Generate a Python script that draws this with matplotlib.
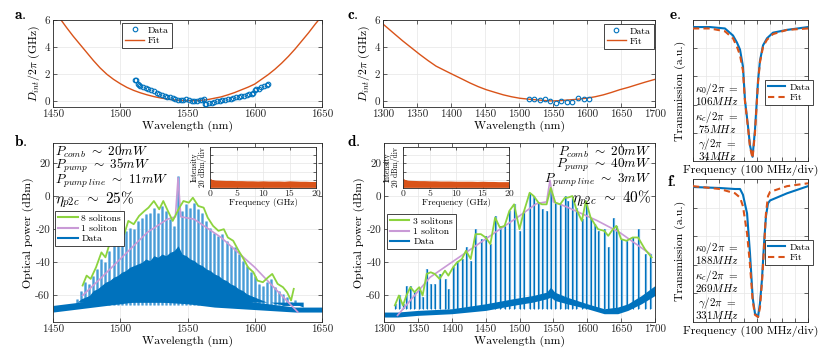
import warnings
import numpy as np
import matplotlib
matplotlib.use("Agg")
import matplotlib.pyplot as plt

warnings.filterwarnings("ignore")
plt.rcParams["font.family"] = "serif"
plt.rcParams["font.serif"] = ["cmr10", "DejaVu Serif"]
plt.rcParams["mathtext.fontset"] = "cm"
plt.rcParams["axes.unicode_minus"] = False

BLUE = "#0072BD"
LBLUE = "#6fb2e2"
ORANGE = "#D95319"
GREEN = "#8cd33f"
PINK = "#c99ad6"

# ---- panel a: integrated dispersion, 1450-1650 nm
a_data_wl = [1511, 1512, 1513, 1514, 1515, 1517, 1519, 1521, 1523, 1525, 1527, 1529, 1531,
             1533, 1535, 1537, 1539, 1541, 1543, 1545, 1547, 1549, 1551, 1553, 1555, 1557,
             1559, 1561, 1562, 1563, 1564, 1566, 1568, 1570, 1572, 1574, 1576, 1578, 1580,
             1582, 1584, 1586, 1588, 1590, 1592, 1594, 1596, 1598, 1599, 1600, 1601, 1603,
             1605, 1607, 1609, 1610]
a_data_d = [1.58, 1.52, 1.25, 1.2, 1.12, 1.05, 0.95, 0.88, 0.78, 0.7, 0.62, 0.55, 0.46,
            0.38, 0.32, 0.26, 0.2, 0.14, 0.09, 0.05, 0.04, 0.12, 0.05, 0.0, 0.02, 0.02,
            0.06, 0.1, 0.13, -0.2, -0.22, -0.18, -0.12, -0.06, -0.02, 0.02, 0.05, 0.1, 0.14,
            0.18, 0.23, 0.28, 0.32, 0.36, 0.4, 0.44, 0.48, 0.52, 0.6, 0.78, 0.85, 0.92,
            1.0, 1.08, 1.18, 1.26]
a_fit_wl = [1456, 1460, 1465, 1470, 1475, 1480, 1485, 1490, 1495, 1500, 1505, 1510, 1515,
            1520, 1525, 1530, 1535, 1540, 1545, 1550, 1555, 1560, 1565, 1570, 1575, 1580,
            1585, 1590, 1595, 1600, 1605, 1610, 1615, 1620, 1625, 1630, 1635, 1640, 1645,
            1650]
a_fit_d = [6.0, 5.45, 4.8, 4.2, 3.6, 3.0, 2.45, 1.98, 1.6, 1.28, 1.0, 0.78, 0.6,
           0.45, 0.32, 0.22, 0.14, 0.08, 0.04, 0.02, 0.02, 0.04, 0.1, 0.2, 0.3, 0.45,
           0.62, 0.82, 1.02, 1.25, 1.6, 1.95, 2.35, 2.8, 3.3, 3.85, 4.45, 5.05, 5.7,
           6.3]

# ---- panel c: integrated dispersion, 1300-1700 nm
c_data_wl = [1515, 1522, 1531, 1538, 1546, 1554, 1562, 1570, 1578, 1587, 1595, 1603]
c_data_d = [0.18, 0.12, 0.08, 0.12, 0.0, -0.12, 0.02, -0.05, -0.05, 0.25, 0.18, 0.18]
c_fit_wl = [1300, 1315, 1329, 1342, 1354, 1366, 1378, 1391, 1403, 1416, 1428, 1440, 1452,
            1465, 1477, 1489, 1501, 1514, 1526, 1538, 1550, 1562, 1575, 1587, 1599, 1612,
            1624, 1636, 1648, 1661, 1673, 1686, 1700]
c_fit_d = [5.7, 5.05, 4.45, 3.93, 3.45, 3.0, 2.58, 2.25, 1.95, 1.63, 1.33, 1.06, 0.83,
           0.63, 0.45, 0.31, 0.2, 0.13, 0.08, 0.03, 0.0, 0.03, 0.08, 0.13, 0.2, 0.31,
           0.45, 0.63, 0.83, 1.01, 1.2, 1.4, 1.6]

# ---- panel b: comb spectrum, 8 solitons
b_comb_wl = [1468, 1471, 1474, 1477, 1480, 1483, 1486, 1489, 1492, 1495, 1498, 1501, 1504,
             1507, 1510, 1513, 1516, 1519, 1522, 1525, 1528, 1531, 1534, 1537, 1540, 1543,
             1546, 1549, 1552, 1555, 1558, 1561, 1564, 1567, 1570, 1573, 1576, 1579, 1582,
             1585, 1588, 1591, 1594, 1597, 1600, 1603, 1606, 1609, 1612, 1615, 1618, 1621,
             1624, 1627, 1630, 1633, 1636]
b_comb_top = [-62, -57, -52, -53, -48, -44, -38, -40, -33, -29, -27, -26, -21,
              -19, -20, -15, -13, -11, -10, -7, -10, -6, -9, -14, -18, 12,
              -9, -5, -7, -4, -8, -10, -15, -19, -22, -24, -23, -27, -30,
              -31, -35, -39, -42, -46, -48, -53, -54, -52, -50, -55, -57, -59,
              -61, -64, -63, -65, -66]
b_dark_top = [-64, -62, -61, -60, -57, -56, -54, -52, -51, -49, -48, -46, -45,
              -43, -42, -41, -40, -38, -39, -36, -37, -35, -36, -34, -33, -30,
              -35, -36, -38, -39, -41, -42, -44, -45, -47, -48, -50, -51, -53,
              -54, -56, -57, -59, -60, -61, -62, -63, -64, -64, -65, -65, -66,
              -66, -66, -66, -66, -67]
b_floor_wl = [1450, 1470, 1490, 1510, 1530, 1550, 1570, 1590, 1610, 1630, 1650]
b_floor_lo = [-70, -68, -66, -64, -64, -65, -67, -68, -69, -70, -70]
b_floor_hi = [-66, -64, -61, -58, -58, -59, -61, -63, -65, -67, -67]
b_8sol_wl = [1472, 1475, 1478, 1482, 1486, 1489, 1492, 1495, 1499, 1503, 1506, 1510, 1514,
             1518, 1521, 1525, 1529, 1532, 1536, 1539, 1544, 1547, 1551, 1554, 1558, 1562,
             1565, 1569, 1573, 1577, 1580, 1584, 1588, 1591, 1595, 1599, 1602, 1606, 1610,
             1613, 1617, 1621, 1624, 1627, 1629]
b_8sol_p = [-54, -48, -50, -43, -34, -37, -29, -26, -22, -23, -15, -17, -12,
            -9, -7, -3, -8, -3, -10, -15, -7, -3, -4, -1, -6, -7,
            -13, -18, -21, -20, -25, -27, -33, -37, -43, -46, -51, -52, -49,
            -47, -53, -55, -58, -63, -56]
b_1sol_wl = [1472, 1485, 1500, 1520, 1535, 1541, 1543, 1545, 1555, 1575, 1600, 1620, 1632]
b_1sol_p = [-60, -50, -38, -22, -14, -12.5, 11, -12.5, -14, -25, -43, -60, -70]

# ---- panel d: comb spectrum, 3 solitons
d_comb_wl = [1310, 1316, 1322, 1328, 1333, 1339, 1345, 1352, 1357, 1363, 1369, 1375, 1382,
             1390, 1395, 1402, 1408, 1415, 1421, 1428, 1435, 1443, 1450, 1457, 1464, 1471,
             1478, 1485, 1492, 1500, 1506, 1515, 1521, 1528, 1533, 1540, 1546, 1553, 1560,
             1567, 1571, 1578, 1584, 1592, 1598, 1605, 1611, 1616, 1625, 1631, 1638, 1643,
             1650, 1658, 1667, 1675, 1685, 1693]
d_comb_top = [-68, -65, -60, -65, -54, -54, -58, -56, -61, -44, -53, -53, -47,
              -50, -56, -43, -39, -38, -31, -39, -20, -26, -24, -29, -12, -18,
              -18, -9, -5, -21, -9, 2, 0, -4, -8, -9, 5, -4, -5,
              0, -3, -1, -7, -14, -4, -13, -17, -21, -20, -31, -13, -18,
              -26, -27, -25, -20, -35, -35]
d_floor_wl = [1300, 1320, 1350, 1400, 1450, 1490, 1520, 1540, 1546, 1552, 1570, 1600, 1625,
              1645, 1660, 1680, 1700]
d_floor_lo = [-73, -73, -72, -71, -69, -66, -64, -62, -61, -63, -65, -68, -71,
              -71, -69, -65, -60]
d_floor_hi = [-70, -70, -69, -68, -65, -62, -60, -58, -55, -58, -61, -65, -68,
              -67, -65, -60, -54]
d_3sol_wl = [1316, 1322, 1328, 1333, 1339, 1345, 1352, 1357, 1363, 1369, 1375, 1382, 1390,
             1395, 1402, 1408, 1415, 1421, 1428, 1435, 1443, 1450, 1457, 1464, 1471, 1478,
             1485, 1492, 1500, 1506, 1515, 1521, 1528, 1533, 1540, 1546, 1553, 1560, 1567,
             1571, 1578, 1584, 1592, 1598, 1605, 1611, 1616, 1625, 1631, 1638, 1643, 1650,
             1658, 1667, 1675, 1685, 1695]
d_3sol_p = [-66, -60, -66, -60, -55, -58, -55, -60, -47, -46, -47, -50, -45,
            -48, -43, -40, -38, -33, -38, -23, -23, -25, -29, -13, -19, -18,
            -9, -5, -20, -10, 2, 0, -4, -5, -5, 5, -4, -5, -1,
            -1, 0, -8, -15, -3, -13, -17, -20, -21, -24, -20, -18, -26,
            -27, -25, -25, -32, -37]
d_1sol_wl = [1320, 1343, 1368, 1407, 1464, 1500, 1525, 1540, 1545, 1550, 1570, 1614, 1648, 1693]
d_1sol_p = [-72, -61, -49, -38, -22, -12, -4.6, -3.5, 9.5, -3.5, -6.6, -14.7, -22, -35]

# ---- insets: RF intensity noise
rf_freq = [0, 0.3, 1, 2, 3, 4, 5, 6, 7, 8, 9, 10, 11, 12, 13, 14, 15, 16, 17, 18, 19, 20]
b_rf = [24, 21, 19.5, 19, 18.5, 18.5, 18, 18, 17.5, 17.5, 17, 17.5, 17, 17, 17, 16.5,
        17.5, 17, 16.5, 16.5, 16, 16]
d_rf = [24, 21, 19, 18.5, 18, 18, 17.5, 17.5, 17, 17, 17, 16.5, 16.5, 16.5, 16.5, 16,
        16.5, 16, 16, 15.5, 15.5, 15.5]

# ---- panels e, f: resonance transmission (MHz offset)
e_freq = [0, 133, 250, 313, 344, 368, 391, 407, 430, 446, 466, 485, 501, 509, 524, 548,
          579, 626, 736, 900]
e_data = [0.95, 0.95, 0.94, 0.89, 0.84, 0.79, 0.67, 0.43, 0.25, 0.11, 0.03, 0.22, 0.45,
          0.57, 0.71, 0.82, 0.87, 0.91, 0.93, 0.95]
e_fit = [0.94, 0.94, 0.92, 0.87, 0.81, 0.75, 0.64, 0.42, 0.24, 0.10, 0.02, 0.20, 0.44,
         0.56, 0.70, 0.81, 0.86, 0.90, 0.93, 0.94]
f_freq = [0, 211, 329, 368, 391, 423, 446, 467, 485, 509, 524, 540, 556, 571, 587, 603,
          736, 900]
f_data = [0.944, 0.937, 0.93, 0.93, 0.89, 0.76, 0.48, 0.17, 0.06, 0.035, 0.13, 0.30,
          0.55, 0.74, 0.83, 0.85, 0.90, 0.95]
f_fit = [0.95, 0.93, 0.90, 0.87, 0.81, 0.62, 0.40, 0.15, 0.05, 0.035, 0.10, 0.28,
         0.52, 0.76, 0.88, 0.91, 0.95, 0.97]

W, H = 830, 361
fig = plt.figure(figsize=(W / 100, H / 100), dpi=100)


def add_ax(l, t, r, b):
    return fig.add_axes([l / W, 1 - b / H, (r - l) / W, (b - t) / H])


def matlab_style(ax, labelsize=8):
    ax.tick_params(direction="in", top=True, right=True, length=3, width=0.5,
                   labelsize=labelsize, pad=2, colors="#262626")
    for s in ax.spines.values():
        s.set_linewidth(0.6)
        s.set_color("#262626")
    ax.grid(True, color="#e6e6e6", lw=0.5)
    ax.set_axisbelow(True)


def leg(ax, **kw):
    opts = dict(fontsize=7, fancybox=False, framealpha=1, edgecolor="#262626",
                borderpad=0.3, labelspacing=0.15, handletextpad=0.4,
                handlelength=2.0, borderaxespad=0)
    opts.update(kw)
    lg = ax.legend(**opts)
    lg.get_frame().set_linewidth(0.6)
    return lg


# panel a
ax = add_ax(53, 20, 322, 107)
matlab_style(ax)
ax.plot(a_fit_wl, a_fit_d, color=ORANGE, lw=1.0, label="Fit", zorder=2)
ax.plot(a_data_wl, a_data_d, "o", mfc="none", mec=BLUE, ms=3.3, mew=0.8, label="Data", zorder=3)
ax.set_xlim(1450, 1650)
ax.set_ylim(-0.45, 6)
ax.set_xticks(np.arange(1450, 1651, 50))
ax.set_yticks([0, 2, 4, 6])
ax.set_xlabel("Wavelength (nm)", fontsize=8.5, labelpad=1)
ax.set_ylabel(r"$D_{int}/2\pi$ (GHz)", fontsize=8.5, labelpad=2)
h, l = ax.get_legend_handles_labels()
leg(ax, handles=h[::-1], labels=l[::-1], loc="upper left", bbox_to_anchor=(0.256, 0.966))

# panel c
ax = add_ax(383, 20, 655, 107)
matlab_style(ax)
ax.plot(c_fit_wl, c_fit_d, color=ORANGE, lw=1.0, label="Fit", zorder=2)
ax.plot(c_data_wl, c_data_d, "o", mfc="none", mec=BLUE, ms=3.3, mew=0.8, label="Data", zorder=3)
ax.set_xlim(1300, 1700)
ax.set_ylim(-0.45, 6)
ax.set_xticks(np.arange(1300, 1701, 50))
ax.set_yticks([0, 2, 4, 6])
ax.set_xlabel("Wavelength (nm)", fontsize=8.5, labelpad=1)
ax.set_ylabel(r"$D_{int}/2\pi$ (GHz)", fontsize=8.5, labelpad=2)
h, l = ax.get_legend_handles_labels()
leg(ax, handles=h[::-1], labels=l[::-1], loc="upper right", bbox_to_anchor=(0.995, 0.955))

# panel b
ax = add_ax(53, 143, 322, 322)
matlab_style(ax)
ax.vlines(b_comb_wl, -66, b_comb_top, color=LBLUE, lw=2.0, zorder=2)
ax.vlines(b_comb_wl, -66, b_comb_top, color=BLUE, lw=0.4, alpha=0.6, zorder=2.05)
ax.fill_between(b_comb_wl, -64, b_dark_top, color=BLUE, lw=0, zorder=2.1)
ax.fill_between(b_floor_wl, b_floor_lo, b_floor_hi, color=BLUE, lw=0, zorder=2.1)
ax.plot(b_1sol_wl, b_1sol_p, color=PINK, lw=1.2, zorder=3)
ax.plot(b_8sol_wl, b_8sol_p, color=GREEN, lw=1.3, zorder=4)
ax.plot([], [], color=GREEN, lw=1.5, label="8 solitons")
ax.plot([], [], color=PINK, lw=1.5, label="1 soliton")
ax.plot([], [], color=BLUE, lw=1.5, label="Data")
ax.set_xlim(1450, 1650)
ax.set_ylim(-76, 32)
ax.set_xticks(np.arange(1450, 1651, 50))
ax.set_yticks([-60, -40, -20, 0, 20])
ax.set_xlabel("Wavelength (nm)", fontsize=8.5, labelpad=1)
ax.set_ylabel("Optical power (dBm)", fontsize=8.5, labelpad=1)
leg(ax, loc="upper left", bbox_to_anchor=(0.008, 0.62))
ax.text(0.008, 0.99, r"$P_{comb}\ \sim\ 20mW$" + "\n" + r"$P_{pump}\ \sim\ 35mW$" + "\n"
        + r"$P_{pump\ line}\ \sim\ 11mW$", transform=ax.transAxes, fontsize=9.5,
        ha="left", va="top", multialignment="left", linespacing=0.75, zorder=6)
ax.text(0.008, 0.683, r"$\eta_{p2c}\ \sim\ \mathbf{25\%}$", transform=ax.transAxes,
        fontsize=11, ha="left", va="center", zorder=6)

# panel d
ax = add_ax(384, 143, 655, 322)
matlab_style(ax)
ax.vlines(np.array(d_comb_wl) + 1.0, -68, d_comb_top, color=LBLUE, lw=1.6, zorder=2)
ax.vlines(d_comb_wl, -68, d_comb_top, color=BLUE, lw=0.8, zorder=2.05)
ax.fill_between(d_floor_wl, d_floor_lo, d_floor_hi, color=BLUE, lw=0, zorder=2.1)
ax.plot(d_1sol_wl, d_1sol_p, color=PINK, lw=1.2, zorder=3)
ax.plot(d_3sol_wl, d_3sol_p, color=GREEN, lw=1.3, zorder=4)
ax.plot([], [], color=GREEN, lw=1.5, label="3 solitons")
ax.plot([], [], color=PINK, lw=1.5, label="1 soliton")
ax.plot([], [], color=BLUE, lw=1.5, label="Data")
ax.set_xlim(1300, 1700)
ax.set_ylim(-76, 32)
ax.set_xticks(np.arange(1300, 1701, 50))
ax.set_yticks([-60, -40, -20, 0, 20])
ax.set_xlabel("Wavelength (nm)", fontsize=8.5, labelpad=1)
ax.set_ylabel("Optical power (dBm)", fontsize=8.5, labelpad=1)
leg(ax, loc="upper left", bbox_to_anchor=(0.011, 0.603))
ax.text(0.985, 0.99, r"$P_{comb}\ \sim\ 20mW$" + "\n" + r"$P_{pump}\ \sim\ 40mW$" + "\n"
        + r"$P_{pump\ line}\ \sim\ 3mW$", transform=ax.transAxes, fontsize=9.5,
        ha="right", va="top", multialignment="right", linespacing=0.75, zorder=6)
ax.text(0.985, 0.69, r"$\eta_{p2c}\ \sim\ \mathbf{40\%}$", transform=ax.transAxes,
        fontsize=11, ha="right", va="center", zorder=6)

# insets
for (l, r), rf in [((210, 316), b_rf), ((403, 509), d_rf)]:
    ia = add_ax(l, 147, r, 188)
    matlab_style(ia, labelsize=7)
    ia.tick_params(length=2, pad=1)
    ia.fill_between(rf_freq, 1.5, rf, color=ORANGE, lw=0)
    ia.set_xlim(0, 20)
    ia.set_ylim(0, 100)
    ia.set_xticks([0, 5, 10, 15, 20])
    ia.set_yticks([20, 40, 60, 80])
    ia.set_yticklabels([])
    ia.set_xlabel("Frequency (GHz)", fontsize=6.5, labelpad=0)
    ia.set_ylabel("Intensity\n20 dBm/div", fontsize=5.5, labelpad=1, linespacing=0.9)

# panels e, f
for (t, b), fr, dat, fit, blocks, lgy in [
        ((20, 161), e_freq, e_data, e_fit,
         [r"$\kappa_0/2\pi\ =$" + "\n" + r"$106MHz$",
          r"$\kappa_c/2\pi\ =$" + "\n" + r"$75MHz$",
          r"$\gamma/2\pi\ =$" + "\n" + r"$34MHz$"], 0.574),
        ((179, 322), f_freq, f_data, f_fit,
         [r"$\kappa_0/2\pi\ =$" + "\n" + r"$188MHz$",
          r"$\kappa_c/2\pi\ =$" + "\n" + r"$269MHz$",
          r"$\gamma/2\pi\ =$" + "\n" + r"$331MHz$"], 0.573)]:
    ax = add_ax(693, t, 808, b)
    matlab_style(ax)
    ax.plot(fr, dat, color=BLUE, lw=1.5, label="Data", zorder=3)
    ax.plot(fr, fit, color=ORANGE, lw=1.5, ls=(0, (3, 2)), label="Fit", zorder=4)
    ax.set_xlim(0, 900)
    ax.set_ylim(0, 1.0)
    ax.set_xticks(np.arange(0, 901, 100))
    ax.set_yticks([0.2, 0.4, 0.6, 0.8])
    ax.set_xticklabels([])
    ax.set_yticklabels([])
    ax.set_xlabel("Frequency (100 MHz/div)", fontsize=8.5, labelpad=1)
    ax.set_ylabel("Transmission (a.u.)", fontsize=8.5, labelpad=3)
    leg(ax, loc="upper left", bbox_to_anchor=(0.626, lgy), handlelength=1.8)
    hh = b - t
    for s, yp in zip(blocks, [74, 102, 129]):
        ax.text(24 / 115, 1 - yp / hh, s, transform=ax.transAxes, fontsize=8,
                ha="center", va="center", multialignment="center",
                linespacing=0.85, zorder=6)

# panel letters
for s, x, y in [("a.", 14, 15), ("b.", 14, 141), ("c.", 347, 15), ("d.", 347, 141),
                ("e.", 669, 15), ("f.", 667, 182)]:
    fig.text(x / W, 1 - y / H, r"$\mathbf{%s}$" % s, fontsize=11, ha="left", va="center")

fig.savefig("out.png", dpi=100)
